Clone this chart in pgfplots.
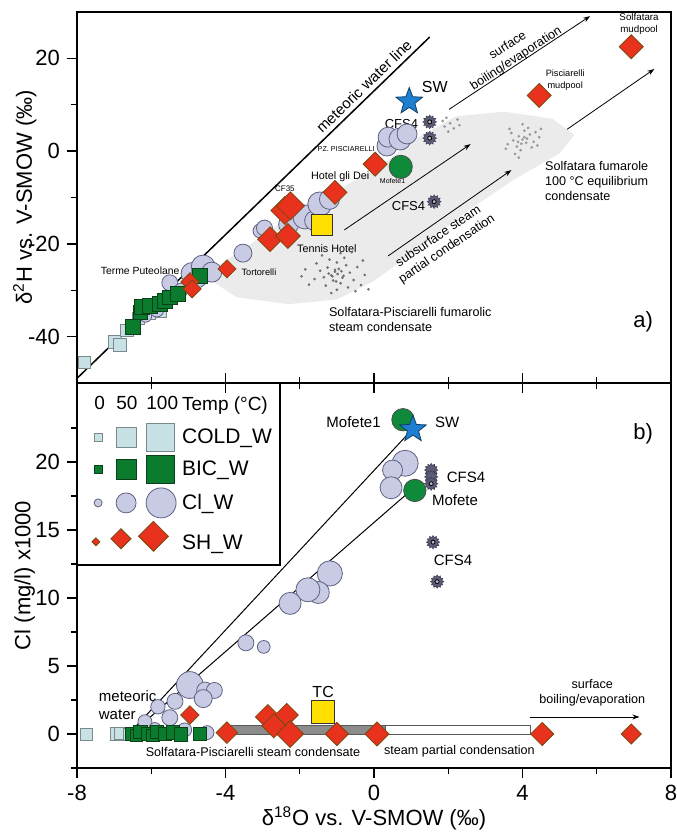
\documentclass[border=0pt]{standalone}
\usepackage{fontspec}
\setmainfont{Liberation Sans}
\usepackage{pgfplots}
\pgfplotsset{compat=1.18}
\usetikzlibrary{arrows.meta}

\definecolor{coldfill}{HTML}{C8E1E4}
\definecolor{colddraw}{HTML}{7A8A8C}
\definecolor{bicfill}{HTML}{0B7B2E}
\definecolor{bicdraw}{HTML}{0A4018}
\definecolor{clfill}{HTML}{C9CBE5}
\definecolor{cldraw}{HTML}{5E6280}
\definecolor{shfill}{HTML}{E8321E}
\definecolor{shdraw}{HTML}{7A4A10}
\definecolor{tcfill}{HTML}{FFE000}
\definecolor{swfill}{HTML}{1E7FD0}
\definecolor{mofill}{HTML}{0E8A3A}
\definecolor{gearc}{HTML}{5C5C78}

% rotated square, half diagonal = mark size
\pgfdeclareplotmark{dia}{%
  \pgfpathmoveto{\pgfqpoint{0pt}{\pgfplotmarksize}}%
  \pgfpathlineto{\pgfqpoint{\pgfplotmarksize}{0pt}}%
  \pgfpathlineto{\pgfqpoint{0pt}{-\pgfplotmarksize}}%
  \pgfpathlineto{\pgfqpoint{-\pgfplotmarksize}{0pt}}%
  \pgfpathclose\pgfusepathqfillstroke}
% filled five point star
\def\sR#1{\pgfpathlineto{\pgfpointpolar{#1}{\pgfplotmarksize}}}
\def\sr#1{\pgfpathlineto{\pgfpointpolar{#1}{0.42*\pgfplotmarksize}}}
\pgfdeclareplotmark{fstar}{%
  \pgfpathmoveto{\pgfpointpolar{90}{\pgfplotmarksize}}%
  \sr{126}\sR{162}\sr{198}\sR{234}\sr{270}\sR{306}\sr{342}\sR{18}\sr{54}%
  \pgfpathclose\pgfusepathqfillstroke}
% gear
\def\gr#1{\pgfpathlineto{\pgfpointpolar{#1}{0.72*\pgfplotmarksize}}}
\pgfdeclareplotmark{gear}{%
  \pgfpathmoveto{\pgfpointpolar{0}{\pgfplotmarksize}}%
  \gr{15}\sR{30}\gr{45}\sR{60}\gr{75}\sR{90}\gr{105}\sR{120}\gr{135}\sR{150}\gr{165}%
  \sR{180}\gr{195}\sR{210}\gr{225}\sR{240}\gr{255}\sR{270}\gr{285}\sR{300}\gr{315}%
  \sR{330}\gr{345}%
  \pgfpathclose\pgfusepathqfillstroke}

\pgfplotsset{
  % size from column s; must come after scatter/use mapped color
  sz/.style={visualization depends on={\thisrow{s}\as\ms},
    scatter/@pre marker code/.append style={/tikz/mark size=\ms}},
  cold/.style={scatter, only marks, forget plot, mark=square*, line width=0.4pt,
    scatter/use mapped color={draw=colddraw, fill=coldfill}, sz},
  bic/.style={scatter, only marks, forget plot, mark=square*, line width=0.4pt,
    scatter/use mapped color={draw=bicdraw, fill=bicfill}, sz},
  clw/.style={scatter, only marks, forget plot, mark=*, line width=0.4pt,
    scatter/use mapped color={draw=cldraw, fill=clfill}, sz},
  shw/.style={scatter, only marks, forget plot, mark=dia, line width=0.4pt,
    scatter/use mapped color={draw=shdraw, fill=shfill}, sz},
  gearpl/.style={forget plot, only marks, mark=gear, mark size=3.4pt,
    mark options={draw=gearc!70!black, fill=gearc, line width=0.3pt}},
  gearcore/.style={forget plot, only marks, mark=*, mark size=1pt,
    mark options={draw=none, fill=gearc!45}},
  dots/.style={only marks, forget plot, mark=*, mark size=0.45pt, black!55},
  common/.style={scale only axis, width=297pt, xmin=-8, xmax=8,
    axis line style={line width=0.75pt}, tick style={line width=0.7pt, black},
    major tick length=5pt, minor tick length=3pt, tick align=outside,
    xtick={-8,-4,0,4,8}, minor xtick={-6,-2,2,6}, ytick pos=left,
    ticklabel style={font=\fontsize{11}{13}\selectfont},
    label style={font=\fontsize{11}{13}\selectfont}, clip=false},
}

\newcommand{\legbb}{\path[draw=none, fill=none] (-5pt,-7.5pt) rectangle (33pt,7.5pt);}

\begin{document}
\begin{tikzpicture}
\path[use as bounding box] (-38.5pt,-35.5pt) rectangle (299.5pt,384pt);

% ---------------- panel b ----------------
\begin{axis}[common, at={(0,0)}, anchor=south west, height=192.5pt,
  ymin=-2.5, ymax=25.8, ytick={0,5,10,15,20}, yticklabels={0,5,10,15,20},
  minor ytick={-2.5,2.5,7.5,12.5,17.5,22.5},
  xtick pos=both, xticklabels={-8,-4,0,4,8},
  xlabel={δ\textsuperscript{18}O vs. V-SMOW (‰)},
  xlabel style={at={(axis description cs:0.5,0)}, anchor=center, yshift=-25pt},
  ylabel={Cl (mg/l) x1000},
  ylabel style={at={(axis description cs:-0.088,0.5)}, anchor=center},
  legend style={at={(axis description cs:0,1)}, anchor=north west, draw=black,
    line width=0.7pt, fill=white, inner xsep=3pt, inner ysep=3pt, row sep=1.3pt,
    nodes={inner sep=1pt}, font=\fontsize{10.5}{12}\selectfont,
    /tikz/every odd column/.append style={column sep=1pt}},
  legend cell align=left]

\addlegendimage{legend image code/.code={\legbb
  \node[font=\fontsize{9.5}{11}\selectfont, inner sep=0pt] at (0pt,0pt) {0};
  \node[font=\fontsize{9.5}{11}\selectfont, inner sep=0pt] at (11pt,0pt) {50};
  \node[font=\fontsize{9.5}{11}\selectfont, inner sep=0pt] at (26pt,0pt) {100};}}
\addlegendentry{\fontsize{9.5}{11}\selectfont Temp (°C)}
\addlegendimage{legend image code/.code={\legbb
  \node[draw=colddraw, fill=coldfill, line width=0.4pt, minimum size=4pt, inner sep=0pt] at (0pt,0pt) {};
  \node[draw=colddraw, fill=coldfill, line width=0.4pt, minimum size=10pt, inner sep=0pt] at (11pt,0pt) {};
  \node[draw=colddraw, fill=coldfill, line width=0.4pt, minimum size=14pt, inner sep=0pt] at (26pt,0pt) {};}}
\addlegendentry{COLD\_W}
\addlegendimage{legend image code/.code={\legbb
  \node[draw=bicdraw, fill=bicfill, line width=0.4pt, minimum size=4pt, inner sep=0pt] at (0pt,0pt) {};
  \node[draw=bicdraw, fill=bicfill, line width=0.4pt, minimum size=10pt, inner sep=0pt] at (11pt,0pt) {};
  \node[draw=bicdraw, fill=bicfill, line width=0.4pt, minimum size=14pt, inner sep=0pt] at (26pt,0pt) {};}}
\addlegendentry{BIC\_W}
\addlegendimage{legend image code/.code={\legbb
  \node[circle, draw=cldraw, fill=clfill, line width=0.4pt, minimum size=4pt, inner sep=0pt] at (0pt,0pt) {};
  \node[circle, draw=cldraw, fill=clfill, line width=0.4pt, minimum size=10pt, inner sep=0pt] at (11pt,0pt) {};
  \node[circle, draw=cldraw, fill=clfill, line width=0.4pt, minimum size=15pt, inner sep=0pt] at (26pt,0pt) {};}}
\addlegendentry{Cl\_W}
\addlegendimage{legend image code/.code={\legbb
  \node[rotate=45, draw=shdraw, fill=shfill, line width=0.4pt, minimum size=2.8pt, inner sep=0pt] at (0pt,0pt) {};
  \node[rotate=45, draw=shdraw, fill=shfill, line width=0.4pt, minimum size=7.1pt, inner sep=0pt] at (11pt,0pt) {};
  \node[rotate=45, draw=shdraw, fill=shfill, line width=0.4pt, minimum size=10.6pt, inner sep=0pt] at (26pt,0pt) {};}}
\addlegendentry{SH\_W}

% steam condensation bar
\addplot[forget plot, fill=black!45, draw=black!65, line width=0.4pt] coordinates {(-3.85,-0.05) (0.3,-0.05) (0.3,0.62) (-3.85,0.62)} -- cycle;
\addplot[forget plot, fill=white, draw=black!65, line width=0.4pt] coordinates {(0.3,-0.05) (4.2,-0.05) (4.2,0.62) (0.3,0.62)} -- cycle;
% mixing lines
\addplot[forget plot, black, line width=0.5pt] coordinates {(-6.4,0.6) (1.0,22.3)};
\addplot[forget plot, black, line width=0.5pt] coordinates {(-6.3,0.6) (0.95,17.8)};

\addplot[cold] table {
x y s
-7.74 0.0 3.0
-6.93 0.0 3.2
-6.82 0.05 3.2
-6.60 0.0 3.0
-6.35 -0.05 3.0
};
\addplot[clw] table {
x y s
0.84 19.9 6.5
0.50 19.4 5.0
0.46 18.1 5.5
-1.19 11.8 6.3
-1.50 10.4 5.5
-1.78 10.6 6.0
-2.26 9.6 5.5
-3.45 6.7 4.0
-2.97 6.4 3.2
-4.96 3.6 6.7
-4.55 3.2 4.2
-4.30 3.2 4.0
-4.60 2.6 4.5
-5.36 2.4 4.0
-5.82 2.0 3.6
-5.50 1.2 4.0
-6.17 0.9 3.5
-4.50 0.1 3.5
-5.10 0.3 3.5
-5.90 0.4 3.0
-5.70 0.1 3.0
};
\addplot[bic] table {
x y s
-6.52 0.0 3.4
-6.40 -0.1 3.2
-6.30 0.15 3.4
-6.09 0.0 3.4
-5.95 -0.1 3.2
-5.85 0.15 3.4
-5.63 0.0 3.4
-5.42 0.1 3.4
-5.20 -0.05 3.4
-4.69 0.0 3.4
};
\addplot[shw] table {
x y s
-4.96 1.4 4.6
-3.96 0.1 5.4
-2.86 1.25 6.2
-2.35 1.4 5.8
-2.70 0.6 6.0
-2.26 0.0 6.7
-1.00 0.0 5.8
0.08 0.0 6.0
4.53 0.0 5.8
6.93 0.0 5.0
};
% TC
\addplot[forget plot, only marks, mark=square*, mark size=5.8pt, mark options={draw=black!80, fill=tcfill, line width=0.4pt}] coordinates {(-1.37,1.6)};
% Mofete, Mofete1
\addplot[forget plot, only marks, mark=*, mark size=5.6pt, mark options={draw=black!70, fill=mofill, line width=0.4pt}] coordinates {(0.78,23.1) (1.1,17.9)};
% CFS4
\addplot[gearpl, mark size=3.3pt] coordinates {(1.54,19.4) (1.54,18.9) (1.54,18.4) (1.59,14.1) (1.70,11.2)};
\addplot[gearcore] coordinates {(1.54,18.4) (1.59,14.1) (1.70,11.2)};
% SW
\addplot[forget plot, only marks, mark=fstar, mark size=7pt, mark options={draw=swfill!50!black, fill=swfill, line width=0.4pt}] coordinates {(1.05,22.4)};

\begin{scope}[font=\fontsize{7.5}{9}\selectfont]
\node at (axis cs:-0.55,22.9) {Mofete1};
\node at (axis cs:1.97,22.9) {SW};
\node at (axis cs:2.48,18.9) {CFS4};
\node at (axis cs:2.18,17.2) {Mofete};
\node at (axis cs:2.13,12.8) {CFS4};
\node[align=left, anchor=west] at (axis cs:-7.6,2.1) {meteoric\\water};
\node[font=\fontsize{8}{9}\selectfont] at (axis cs:-1.37,3.1) {TC};
\end{scope}
\begin{scope}[font=\fontsize{6.3}{7.5}\selectfont]
\node at (axis cs:-3.26,-1.3) {Solfatara-Pisciarelli steam condensate};
\node at (axis cs:2.3,-1.3) {steam partial condensation};
\node[align=center] at (axis cs:5.88,3.0) {surface\\boiling/evaporation};
\end{scope}
\draw[-{Stealth[length=3.5pt,width=2.5pt]}, line width=0.4pt] (axis cs:4.2,1.25) -- (axis cs:7.15,1.25);
\node[font=\fontsize{11}{13}\selectfont] at (axis cs:7.25,22.1) {b)};
\end{axis}

% ---------------- panel a ----------------
\begin{axis}[common, at={(0,192.5pt)}, anchor=south west, height=185.5pt,
  ymin=-50, ymax=30, ytick={-40,-20,0,20}, yticklabels={-40,-20,0,20},
  minor ytick={-30,-10,10}, xtick pos=bottom, xticklabels={},
  ylabel={δ\textsuperscript{2}H vs. V-SMOW (‰)},
  ylabel style={at={(axis description cs:-0.088,0.5)}, anchor=center}]

% shaded steam band
\addplot[forget plot, fill=black!8, draw=none] coordinates {
(-4.6,-26.8) (-3.6,-21.5) (-2.6,-16) (-1.2,-9.5) (0.2,-3) (1.2,3) (2.2,7.5)
(3.5,8.5) (4.8,7) (5.4,3.5) (5.0,-0.5) (3.8,-6) (2.5,-13) (1.2,-21) (0,-28)
(-1,-32) (-2.3,-33) (-3.7,-31.5)} -- cycle;

% fumarole condensate clouds
\addplot[dots] coordinates {
(-1.05,-26.0) (-0.95,-25.4) (-1.15,-26.8) (-0.85,-27.3) (-1.25,-25.1) (-0.75,-24.6)
(-1.10,-27.9) (-0.90,-28.5) (-1.35,-27.2) (-0.65,-26.2) (-1.00,-24.0) (-1.20,-23.4)
(-0.80,-23.0) (-1.45,-25.8) (-0.55,-27.8) (-1.30,-29.0) (-0.70,-29.4) (-1.00,-29.9)
(-1.60,-27.6) (-0.45,-25.0) (-1.55,-24.2) (-0.35,-28.9) (-1.40,-22.5) (-0.90,-22.0)
(-0.60,-21.8) (-1.75,-28.8) (-0.25,-26.7) (-1.15,-30.6) (-0.50,-30.2) (-1.85,-25.5)
(-0.30,-23.6) (-1.95,-27.0) (-0.15,-29.8) (-1.05,-25.6) (-0.98,-26.5) (-1.12,-27.0)
(-0.88,-25.9) (-1.02,-28.1) (-0.82,-26.9) (-1.22,-26.4)};
\addplot[dots, black!40] coordinates {
(4.00,2.5) (3.90,3.2) (4.10,1.8) (3.85,1.0) (4.20,3.6) (4.05,4.4) (3.75,2.3)
(4.30,2.0) (3.95,0.2) (4.15,5.0) (3.70,3.9) (4.35,4.1) (3.80,-0.6) (4.25,0.8)
(3.60,1.5) (4.45,3.0) (4.00,5.8) (3.65,4.8) (4.40,1.2) (3.90,-1.4) (4.05,3.0)
(3.97,1.6) (4.12,2.7) (3.88,2.0) (4.50,4.8) (3.55,0.5)
(1.95,7.2) (2.05,6.0) (2.15,4.9) (1.90,5.3) (2.25,6.8) (2.00,4.2) (2.30,5.6) (1.85,6.5)};

% meteoric water line
\addplot[forget plot, black, line width=0.75pt] coordinates {(-8,-49) (1.5,24.6)};

\addplot[cold] table {
x y s
-7.79 -45.5 3.0
-6.98 -41.2 3.3
-6.85 -41.7 3.3
-6.66 -38.6 3.1
-6.35 -36.0 3.0
-6.05 -35.0 3.0
-5.75 -34.6 2.8
};
\addplot[clw] table {
x y s
-6.15 -35.6 3.0
-5.85 -34.3 3.4
-5.55 -31.8 3.0
-5.50 -28.4 4.0
-5.20 -30.0 3.5
-4.90 -26.4 5.5
-4.60 -25.0 6.0
-4.37 -26.1 5.0
-4.75 -27.5 4.5
-3.53 -22.0 4.5
-3.07 -17.2 3.5
-2.95 -16.6 4.0
-2.30 -15.8 5.0
-1.86 -14.2 6.0
-1.60 -15.0 5.0
-1.46 -11.4 6.0
-1.20 -10.4 5.0
0.35 1.1 5.0
0.38 3.0 5.0
0.70 2.6 5.5
0.89 3.7 5.0
};
\addplot[bic] table {
x y s
-6.50 -37.9 3.8
-6.30 -34.8 3.6
-6.25 -33.6 3.8
-6.04 -33.4 3.8
-5.77 -33.0 3.8
-5.63 -32.3 3.6
-5.50 -31.5 3.6
-5.28 -30.8 3.8
-4.69 -26.9 3.7
};
\addplot[shw] table {
x y s
-4.96 -28.2 4.5
-4.90 -29.7 4.5
-3.96 -25.4 4.5
-2.80 -19.0 6.2
-2.32 -18.3 6.2
-2.40 -12.8 7.0
-2.25 -11.8 7.0
-1.05 -8.9 6.0
0.03 -2.8 6.0
4.45 12.0 6.0
6.93 22.5 6.0
};
\addplot[forget plot, only marks, mark=square*, mark size=5.3pt, mark options={draw=black!80, fill=tcfill, line width=0.4pt}] coordinates {(-1.4,-15.9)};
\addplot[forget plot, only marks, mark=*, mark size=5.8pt, mark options={draw=black!70, fill=mofill, line width=0.4pt}] coordinates {(0.72,-3.4)};
\addplot[gearpl] coordinates {(1.5,6.3) (1.5,2.8) (1.62,-10.9)};
\addplot[gearcore] coordinates {(1.5,6.3) (1.5,2.8) (1.62,-10.9)};
\addplot[forget plot, only marks, mark=fstar, mark size=7pt, mark options={draw=swfill!50!black, fill=swfill, line width=0.4pt}] coordinates {(0.95,10.7)};

% arrows
\begin{scope}[-{Stealth[length=3.5pt,width=2.5pt]}, line width=0.4pt]
\draw (axis cs:2.02,9.0) -- (axis cs:5.82,29.1);
\draw (axis cs:-0.8,-17) -- (axis cs:2.6,1.5);
\draw (axis cs:0.38,-22.6) -- (axis cs:3.7,-4.1);
\draw (axis cs:5.2,4.7) -- (axis cs:7.55,17.7);
\end{scope}

% labels
\node[font=\fontsize{7.5}{9}\selectfont, rotate=44] at (axis cs:-0.27,14.0) {meteoric water line};
\node[font=\fontsize{8}{9}\selectfont, anchor=west] at (axis cs:1.1,13.8) {SW};
\node[font=\fontsize{6.5}{8}\selectfont] at (axis cs:0.74,5.8) {CFS4};
\node[font=\fontsize{6.5}{8}\selectfont] at (axis cs:0.93,-11.8) {CFS4};
\node[font=\fontsize{8}{9}\selectfont] at (axis cs:-1.4,-15.9) {TC};
\node[font=\fontsize{3.6}{4}\selectfont] at (axis cs:-0.75,0.4) {PZ. PISCIARELLI};
\node[font=\fontsize{3.5}{4}\selectfont] at (axis cs:0.5,-6.5) {Mofete1};
\node[font=\fontsize{5.4}{6}\selectfont] at (axis cs:-0.91,-5.6) {Hotel gli Dei};
\node[font=\fontsize{4}{5}\selectfont] at (axis cs:-2.4,-8.2) {CF35};
\node[font=\fontsize{5.4}{6}\selectfont] at (axis cs:-1.27,-21.1) {Tennis Hotel};
\node[font=\fontsize{5.2}{6}\selectfont] at (axis cs:-6.3,-25.9) {Terme Puteolane};
\node[font=\fontsize{4.6}{5}\selectfont] at (axis cs:-3.1,-26.1) {Tortorelli};
\node[font=\fontsize{4.6}{6}\selectfont, align=center] at (axis cs:5.15,15.3) {Pisciarelli\\mudpool};
\node[font=\fontsize{4.9}{6.3}\selectfont, align=center] at (axis cs:7.14,27.4) {Solfatara\\mudpool};
\begin{scope}[font=\fontsize{6.3}{7.6}\selectfont]
\node[align=center, rotate=33] at (axis cs:3.72,21.3) {surface\\boiling/evaporation};
\node[align=center, rotate=34] at (axis cs:1.85,-19.8) {subsurface steam\\partial condensation};
\node[align=left, anchor=north west] at (axis cs:4.42,-0.65) {Solfatara fumarole\\100 °C equilibrium\\condensate};
\node[align=left, anchor=north west] at (axis cs:-1.4,-32.1) {Solfatara-Pisciarelli fumarolic\\steam condensate};
\end{scope}
\node[font=\fontsize{11}{13}\selectfont] at (axis cs:7.25,-36.9) {a)};
\end{axis}
\end{tikzpicture}
\end{document}
